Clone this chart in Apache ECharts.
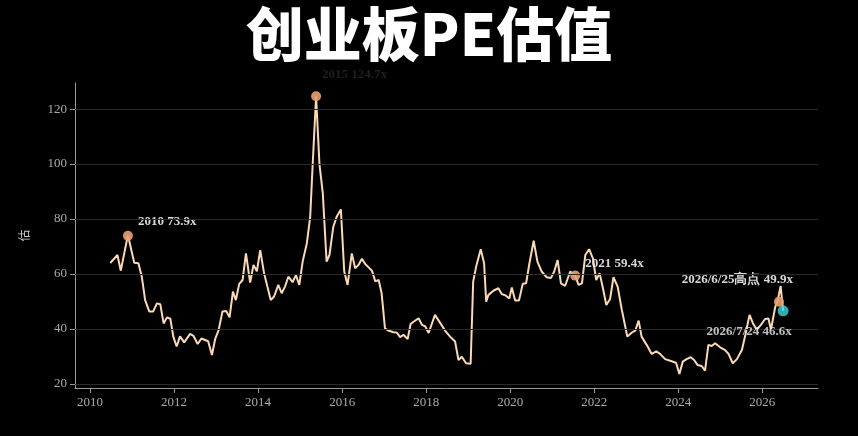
<!DOCTYPE html>
<html>
<head>
<meta charset="utf-8">
<script src="https://cdn.jsdelivr.net/npm/echarts@6/dist/echarts.min.js"></script>
<style>html,body{margin:0;background:#000}#main{width:858px;height:436px}</style>
</head>
<body>
<div id="main"></div>
<script>
// decimal year, PE
const years = [2010.48,2010.65,2010.73,2010.9,2011.05,2011.15,2011.23,2011.31,2011.41,2011.5,2011.59,2011.67,2011.75,2011.83,2011.91,2011.98,2012.06,2012.14,2012.24,2012.38,2012.46,2012.56,2012.65,2012.81,2012.9,2012.98,2013.06,2013.15,2013.24,2013.32,2013.4,2013.47,2013.55,2013.63,2013.71,2013.81,2013.89,2013.97,2014.05,2014.14,2014.22,2014.3,2014.38,2014.48,2014.56,2014.64,2014.72,2014.82,2014.9,2014.98,2015.06,2015.16,2015.24,2015.3,2015.38,2015.46,2015.54,2015.63,2015.7,2015.79,2015.87,2015.97,2016.05,2016.13,2016.23,2016.31,2016.39,2016.47,2016.55,2016.63,2016.71,2016.79,2016.87,2016.94,2017.02,2017.1,2017.22,2017.3,2017.38,2017.46,2017.56,2017.63,2017.71,2017.82,2017.9,2017.98,2018.06,2018.21,2018.33,2018.45,2018.57,2018.69,2018.77,2018.85,2018.95,2019.06,2019.12,2019.2,2019.3,2019.38,2019.43,2019.48,2019.6,2019.72,2019.8,2019.9,2019.98,2020.04,2020.12,2020.21,2020.3,2020.38,2020.46,2020.56,2020.65,2020.75,2020.87,2020.97,2021.05,2021.13,2021.21,2021.31,2021.43,2021.55,2021.63,2021.71,2021.79,2021.88,2021.97,2022.05,2022.13,2022.21,2022.29,2022.38,2022.46,2022.56,2022.66,2022.79,2022.9,2022.98,2023.06,2023.13,2023.25,2023.37,2023.48,2023.57,2023.69,2023.81,2023.95,2024.03,2024.11,2024.2,2024.3,2024.38,2024.46,2024.56,2024.64,2024.72,2024.8,2024.88,2025.0,2025.11,2025.2,2025.3,2025.4,2025.52,2025.6,2025.7,2025.78,2025.87,2025.97,2026.07,2026.15,2026.21,2026.31,2026.37,2026.44,2026.5];
const pe = [64.0,66.9,61.2,74.2,64.1,63.9,59,50.5,46.3,46.3,49.3,49,42,44.2,43.7,37.2,33.6,37.3,35.1,38.2,37.5,34.5,36.5,35.5,30.5,36.5,39.6,46.3,46.5,44.2,53.6,50.5,56.4,57.8,67.5,56.9,63.3,61,68.7,60.4,55.4,50.5,51.8,56,53,55.4,59,57,59.6,56,64.5,71.2,80.8,100.2,124.7,100,89.3,64.5,67,77.2,80.8,83.5,60.9,56,67.5,62.1,63.3,65.5,63.6,62.4,61.2,57.3,57.8,53,40.2,39.4,38.8,38.7,37,37.9,36.3,41.8,42.7,43.9,41.5,40.9,38.5,45.1,42.3,39.4,37.2,35.4,28.7,29.9,27.5,27.3,57.2,63.3,69,63.9,49.9,52.3,53.9,54.8,52.7,52.1,51.1,55.1,50.3,50.3,56.4,56.6,63.9,72.1,64.5,60.9,58.8,58.5,60.9,65.1,56.6,55.7,60.9,59.3,56,56.6,66.9,69,65.7,57.8,60.3,54.8,48.7,50.9,58.8,55.4,46.9,37.2,38.7,39.4,43,37.2,34.2,30.9,31.8,30.9,29,28.4,27.7,23.6,28.1,29,29.7,28.7,26.9,26.5,24.8,34.2,33.8,34.8,33.3,32.4,30.9,27.5,29,32.4,37.8,45.1,42.1,39.7,41.5,43.6,43.8,39.7,47.9,50.2,55.6,46.6];
const xTicks = [2010,2012,2014,2016,2018,2020,2022,2024,2026];
const yTicks = [20,40,60,80,100,120];
const marks = [
  {x:2010.9, y:73.9, text:'2010 73.9x'},
  {x:2015.38, y:124.7, text:'2015 124.7x'},
  {x:2021.55, y:59.4, text:'2021 59.4x'},
  {x:2026.4, y:49.9, text:'2026/6/25高点 49.9x'}
];
const latest = {x:2026.5, y:46.6, text:'2026/7/24 46.6x'};

const chart = echarts.init(document.getElementById('main'));
const serif = 'Liberation Serif';
chart.setOption({
  backgroundColor:'#000',
  animation:false,
  title:{text:'创业板PE估值',left:'center',top:0,textStyle:{color:'#fff',fontSize:58,fontWeight:900,fontFamily:'Noto Sans CJK SC'}},
  grid:{left:75,right:40,top:83,bottom:48},
  xAxis:{type:'value',min:2009.64,max:2027.33,
    axisLine:{lineStyle:{color:'#999'}},
    axisTick:{customValues:xTicks,lineStyle:{color:'#999'}},
    axisLabel:{customValues:xTicks,color:'#aaa',fontFamily:serif,fontSize:13,formatter:v=>String(v)},
    splitLine:{show:false}},
  yAxis:{type:'value',min:18.5,max:129.5,name:'估',nameLocation:'middle',nameGap:45,nameRotate:90,
    nameTextStyle:{color:'#ccc',fontFamily:'Noto Sans CJK SC',fontSize:12},
    axisLine:{show:true,lineStyle:{color:'#999'}},
    axisTick:{show:true,customValues:yTicks,lineStyle:{color:'#999'}},
    axisLabel:{customValues:yTicks,color:'#aaa',fontFamily:serif,fontSize:13},
    splitLine:{show:false}},
  series:[
    {type:'line',data:yTicks.map(v=>[2009.64,v]),showSymbol:false,silent:true,lineStyle:{opacity:0},
      markLine:{symbol:'none',silent:true,label:{show:false},lineStyle:{color:'#2a2a2a',type:'solid',width:1},
        data:yTicks.map(v=>({yAxis:v}))}},
    {type:'line',data:years.map((x,i)=>[x,pe[i]]),showSymbol:false,lineStyle:{color:'#FBD9B5',width:2},z:3},
    {type:'scatter',symbolSize:10,z:4,itemStyle:{color:'#E8A070',opacity:0.9},
      data:marks.map((m,i)=>({value:[m.x,m.y],label:{show:true,formatter:m.text,
        position:i===3?'left':'right',
        offset:i===0?[0,-14]:i===1?[-4,-22]:i===2?[0,-12]:[24,-22],
        color:i===1?'#222':'#eee',fontFamily:serif,fontWeight:'bold',fontSize:13}}))},
    {type:'scatter',symbolSize:11,z:5,itemStyle:{color:'#3ED6E0'},
      data:[{value:[latest.x,latest.y],label:{show:true,formatter:latest.text,position:'bottom',offset:[-34,4],
        color:'#eee',fontFamily:serif,fontWeight:'bold',fontSize:13}}]}
  ]
});
</script>
</body>
</html>
